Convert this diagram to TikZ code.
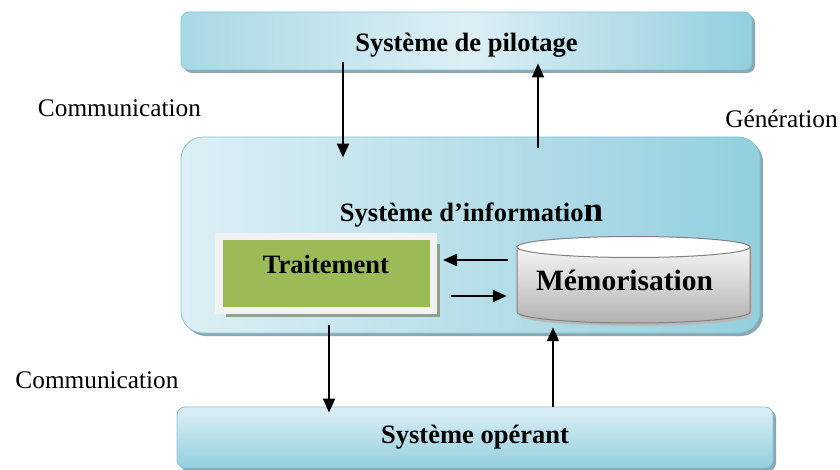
\documentclass[tikz,border=0pt]{standalone}
\usepackage{fontspec}
\setmainfont{Liberation Serif}
\usetikzlibrary{arrows.meta,shadows}

\definecolor{bleu}{HTML}{93CFDE}
\definecolor{bleuclair}{HTML}{DDEFF5}
\definecolor{bleubord}{HTML}{86C4D4}
\definecolor{ombre}{HTML}{7E9EAA}
\definecolor{vert}{HTML}{9BBB59}
\definecolor{cadre}{HTML}{F2F2F2}
\definecolor{ombrevert}{HTML}{8A9A80}

\tikzset{
  barre/.style={draw=bleubord, line width=0.8pt, rounded corners=8pt, inner sep=0pt,
    drop shadow={shadow xshift=3pt, shadow yshift=-3pt, fill=ombre, opacity=0.9}},
  fleche/.style={line width=2pt, -{Triangle[length=14pt,width=12pt]}},
  titre/.style={font=\fontsize{26.5}{30}\selectfont\bfseries},
  legende/.style={font=\fontsize{25.3}{30}\selectfont, inner sep=0pt, anchor=base},
}

\begin{document}
\begin{tikzpicture}[x=1pt, y=-1pt]
    \useasboundingbox (0,0) rectangle (840,470);

    % les trois systemes
    \node[barre, titre, minimum width=571pt, minimum height=58pt, text height=22pt, text depth=0pt,
      left color=bleu!80!white, right color=bleu, middle color=bleuclair] (pilot) at (466.5,41) {Système de pilotage};
    \node[barre, rounded corners=22pt, minimum width=579pt, minimum height=196pt,
      left color=bleuclair, right color=bleu] (info) at (470.5,235) {};
    \node[barre, titre, minimum width=596pt, minimum height=61pt, text height=19pt, text depth=8pt,
      top color=bleuclair, bottom color=bleu] (oper) at (475,437.5) {Système opérant};

    \node[titre, inner sep=0pt, anchor=base] (infotxt) at (471.5,222) {Système d’informatio{\fontsize{35}{40}\selectfont n}};

    % traitement
    \node[draw=cadre, line width=7.5pt, fill=vert, minimum width=214.5pt, minimum height=73.5pt, inner sep=0pt,
      titre, text height=9pt, text depth=9pt,
      drop shadow={shadow xshift=7pt, shadow yshift=-7pt, fill=ombrevert, opacity=0.9}] (trait) at (326,273.5) {Traitement};

    % memorisation
    \node[minimum width=233pt, minimum height=86pt, inner sep=0pt] (memo) at (633.5,280) {};
    \fill[gray!55] (519,250) -- (519,315) arc[start angle=180, end angle=0, x radius=116.5, y radius=11] -- (752,250) -- cycle;
    \shade[top color=gray!8, bottom color=gray!60, draw=gray, line width=1pt]
      (517,247) -- (517,312) arc[start angle=180, end angle=0, x radius=116.5, y radius=11] -- (750,247) -- cycle;
    \filldraw[fill=white, draw=gray, line width=1pt] (633.5,247) ellipse [x radius=116.5, y radius=10.5];
    \node[font=\fontsize{29.5}{34}\selectfont\bfseries, inner sep=0pt, anchor=base] (memotxt) at (624.5,290) {Mémorisation};

    % legendes
    \node[legende] (comhaut) at (119.5,117) {Communication};
    \node[legende] (combas) at (97,388) {Communication};
    \node[legende] (gene) at (781.5,128) {Génération};

    % fleches
    \draw[fleche] ([xshift=-123.5pt, yshift=8pt]pilot.south) -- ([xshift=-127.5pt, yshift=-21pt]info.north);
    \draw[fleche] ([xshift=67.5pt, yshift=-11pt]info.north) -- ([xshift=71.5pt, yshift=7pt]pilot.south);
    \draw[fleche] ([xshift=-9pt, yshift=20pt]memo.west) -- ([xshift=6pt, yshift=13.5pt]trait.east);
    \draw[fleche] ([xshift=14pt, yshift=-22.5pt]trait.east) -- ([xshift=-10pt, yshift=-16pt]memo.west);
    \draw[fleche] ([xshift=3pt, yshift=-11pt]trait.south) -- ([xshift=-146pt, yshift=-6pt]oper.north);
    \draw[fleche] ([xshift=78pt]oper.north) -- ([xshift=-80.5pt, yshift=-4pt]memo.south);

\end{tikzpicture}
\end{document}
